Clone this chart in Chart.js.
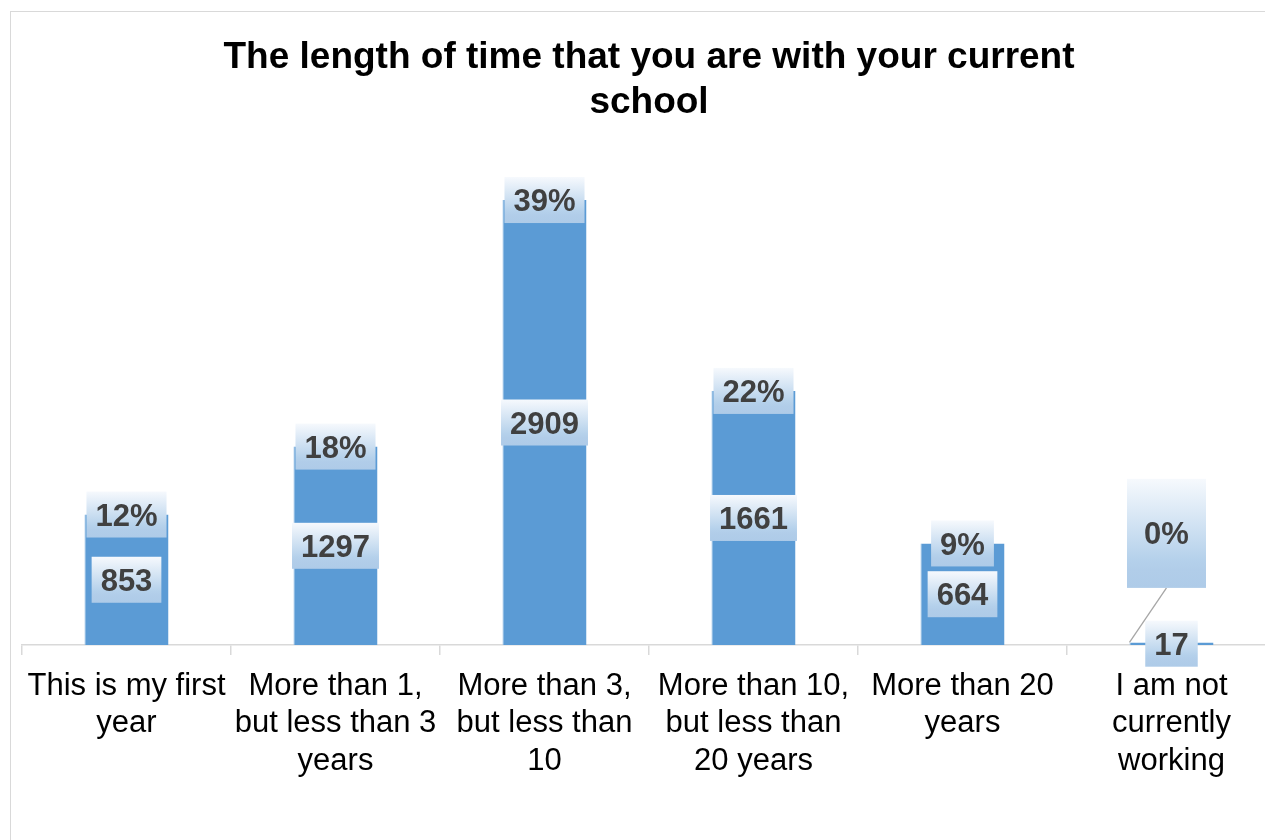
<!DOCTYPE html>
<html>
<head>
<meta charset="utf-8">
<title>The length of time that you are with your current school</title>
<script src="https://cdn.jsdelivr.net/npm/chart.js@4.4.1/dist/chart.umd.min.js"></script>
<style>
  html, body { margin: 0; padding: 0; background: #fff; overflow: hidden; }
  #frame {
    position: absolute; left: 10px; top: 11px; width: 1290px; height: 900px;
    border: 1px solid #d9d9d9; box-sizing: border-box;
  }
  #chart { position: absolute; left: 0; top: 0; }
</style>
</head>
<body>
<div id="frame"></div>
<canvas id="chart" width="1300" height="840"></canvas>
<script>
const categories = [
  ['This is my first', 'year'],
  ['More than 1,', 'but less than 3', 'years'],
  ['More than 3,', 'but less than', '10'],
  ['More than 10,', 'but less than', '20 years'],
  ['More than 20', 'years'],
  ['I am not', 'currently', 'working']
];
const counts = [853, 1297, 2909, 1661, 664, 17];
const percents = ['12%', '18%', '39%', '22%', '9%', '0%'];

const fontFamily = '"Liberation Sans", Arial, Helvetica, sans-serif';
const barColor = '#5b9bd5';
const labelColor = '#404040';
const axisColor = '#d9d9d9';

// the 0% label was dragged away from its bar and resized, with a leader line
const movedLabels = {
  5: { dx: -5, dy: -109, w: 79, h: 109 }
};

function fillLabelBox(ctx, x, y, w, h) {
  const g = ctx.createLinearGradient(0, y, 0, y + h);
  g.addColorStop(0, '#f6f9fd');
  g.addColorStop(0.74, '#b5d1eb');
  g.addColorStop(0.83, '#b1cde9');
  g.addColorStop(1, '#aecbe8');
  ctx.fillStyle = g;
  ctx.fillRect(x, y, w, h);
}

function drawLabel(ctx, text, cx, cy, w, h) {
  const tw = ctx.measureText(text).width;
  const bw = w || tw + 18;
  const bh = h || 46;
  fillLabelBox(ctx, cx - bw / 2, cy - bh / 2, bw, bh);
  ctx.fillStyle = labelColor;
  // cap height of the bold font is about 0.716em, centre it in the box
  ctx.fillText(text, cx, cy + 11.1);
}

const labelPlugin = {
  id: 'barLabels',
  afterDraw(chart) {
    const ctx = chart.ctx;
    const bars = chart.getDatasetMeta(0).data;
    ctx.save();
    ctx.font = 'bold 31px ' + fontFamily;
    ctx.textAlign = 'center';
    ctx.textBaseline = 'alphabetic';
    bars.forEach((bar, i) => {
      const moved = movedLabels[i];
      if (moved) {
        const cx = bar.x + moved.dx;
        const cy = bar.y + moved.dy;
        ctx.strokeStyle = '#a6a6a6';
        ctx.lineWidth = 1.3;
        ctx.beginPath();
        ctx.moveTo(cx, cy + moved.h / 2);
        ctx.lineTo(bar.x - bar.width / 2, bar.y);
        ctx.stroke();
        drawLabel(ctx, percents[i], cx, cy, moved.w, moved.h);
      } else {
        drawLabel(ctx, percents[i], bar.x, bar.y);
      }
    });
    bars.forEach((bar, i) => {
      drawLabel(ctx, String(counts[i]), bar.x, (bar.y + bar.base) / 2);
    });
    ctx.restore();
  }
};

const ctx = document.getElementById('chart').getContext('2d');
new Chart(ctx, {
  type: 'bar',
  data: {
    labels: categories,
    datasets: [{
      data: counts,
      backgroundColor: barColor,
      borderColor: '#8fbbe3',
      borderWidth: { left: 1, right: 0, top: 0, bottom: 0 },
      categoryPercentage: 1,
      barPercentage: 0.402
    }]
  },
  options: {
    responsive: false,
    animation: false,
    layout: { padding: { left: 22, right: 24, top: 0, bottom: 0 } },
    plugins: {
      legend: { display: false },
      tooltip: { enabled: false },
      title: {
        display: true,
        text: ['The length of time that you are with your current', 'school'],
        color: '#000',
        font: { family: fontFamily, size: 37, weight: 'bold', lineHeight: 1.2 },
        padding: { top: 36, bottom: 35 }
      }
    },
    scales: {
      x: {
        afterFit(scale) { scale.height = 195; },
        border: { display: true, color: axisColor, width: 1.5 },
        grid: {
          display: true,
          offset: true,
          drawOnChartArea: false,
          drawTicks: true,
          tickLength: 10,
          color: axisColor,
          lineWidth: 1.5
        },
        ticks: {
          autoSkip: false,
          maxRotation: 0,
          minRotation: 0,
          padding: 13,
          color: '#000',
          font: { family: fontFamily, size: 31, lineHeight: 1.2 }
        }
      },
      y: {
        display: false,
        min: 0,
        max: 3172
      }
    }
  },
  plugins: [labelPlugin]
});
</script>
</body>
</html>
